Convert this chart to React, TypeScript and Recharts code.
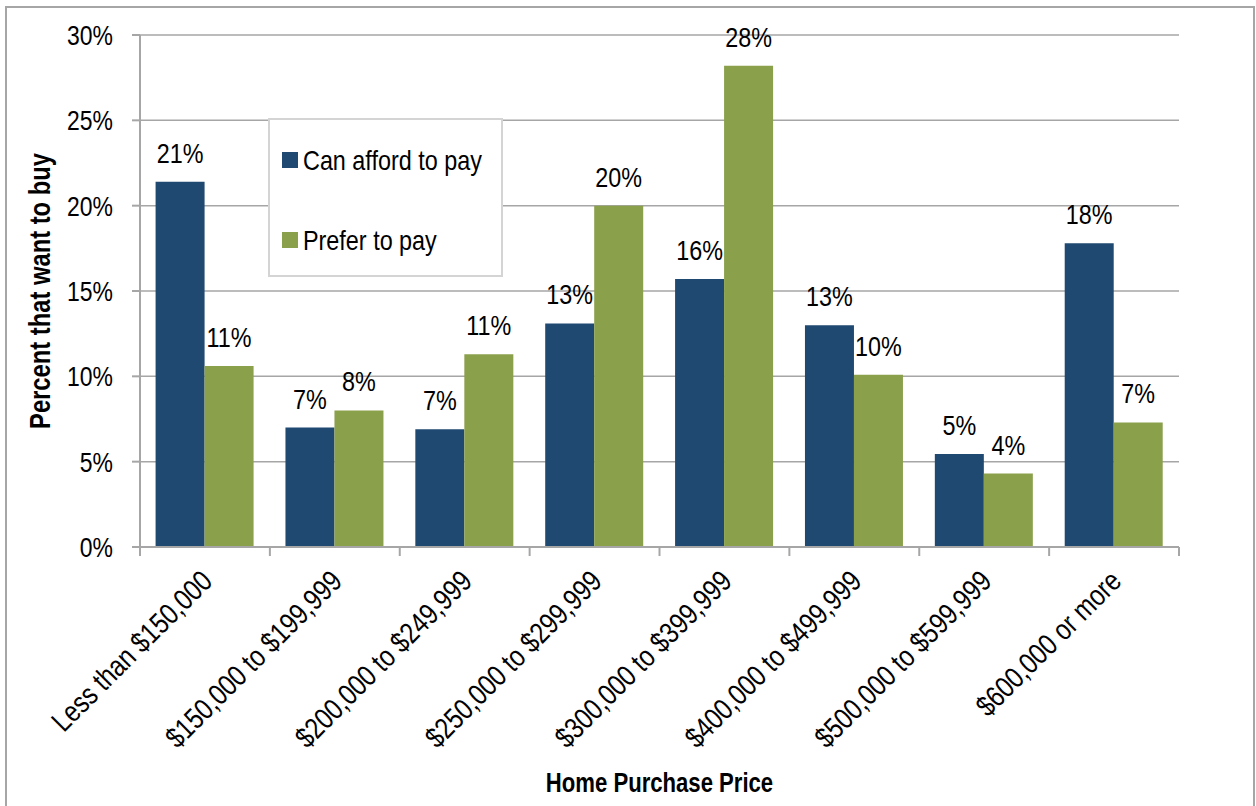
import { BarChart, Bar, XAxis, YAxis, CartesianGrid, Legend, LabelList, Label } from "recharts";

/** Price brackets along the x axis. */
const categories = [
  "Less than $150,000",
  "$150,000 to $199,999",
  "$200,000 to $249,999",
  "$250,000 to $299,999",
  "$300,000 to $399,999",
  "$400,000 to $499,999",
  "$500,000 to $599,999",
  "$600,000 or more",
];

/** Percent that can afford each bracket. */
const canAfford = [21.4, 7.0, 6.9, 13.1, 15.7, 13.0, 5.45, 17.8];

/** Percent that prefer each bracket. */
const preferPay = [10.6, 8.0, 11.3, 20.0, 28.2, 10.1, 4.3, 7.3];

/** Y axis ticks, in percent. */
const yTicks = [0, 5, 10, 15, 20, 25, 30];

const BLUE = "#1f4971";
const GREEN = "#8aa04b";
const GRID = "#a6a6a6";

const WIDTH = 1256;
const HEIGHT = 806;
const MARGIN = { top: 35, right: 77, bottom: 0, left: 0 };
const Y_AXIS_WIDTH = 140;
const X_AXIS_HEIGHT = 259;
const BAND = (WIDTH - MARGIN.right - Y_AXIS_WIDTH) / categories.length;

/** The source uses a condensed face; squeeze Liberation Sans to match. */
const SX = 0.82;

const rows = categories.map((name, i) => ({
  name,
  canAfford: canAfford[i],
  preferPay: preferPay[i],
}));

const pct = (v: number) => `${Math.round(v)}%`;

/** Rotated category label plus Excel-style boundary tick marks. */
function CategoryTick(props: any) {
  const { x, y, payload, index } = props;
  const half = BAND / 2;
  return (
    <g>
      <line x1={x - half} y1={y} x2={x - half} y2={y + 9} stroke={GRID} strokeWidth={2} />
      {index === categories.length - 1 && (
        <line x1={x + half} y1={y} x2={x + half} y2={y + 9} stroke={GRID} strokeWidth={2} />
      )}
      <text
        transform={`translate(${x + 9},${y + 36}) rotate(-45) scale(${SX},1)`}
        textAnchor="end"
        fontSize={29.5}
        fill="#000"
      >
        {payload.value}
      </text>
    </g>
  );
}

function PercentTick(props: any) {
  const { x, y, payload } = props;
  return (
    <text
      transform={`translate(${x},${y}) scale(${SX},1)`}
      textAnchor="end"
      dy="0.36em"
      fontSize={28}
      fill="#000"
    >
      {`${payload.value}%`}
    </text>
  );
}

function BarValue(props: any) {
  const { x, y, width, value } = props;
  return (
    <text
      transform={`translate(${x + width / 2},${y - 19}) scale(${SX},1)`}
      textAnchor="middle"
      fontSize={28.5}
      fill="#000"
    >
      {pct(value)}
    </text>
  );
}

/** Boxed legend floating inside the plot. */
function LegendBox(props: any) {
  const items = props.payload ?? [];
  return (
    <div
      style={{
        position: "relative",
        width: 235,
        height: 159,
        boxSizing: "border-box",
        border: "2px solid #d4d4d4",
        background: "#fff",
      }}
    >
      {items.map((item: any, i: number) => (
        <div
          key={item.value}
          style={{
            position: "absolute",
            left: 12,
            top: 27 + i * 80,
            height: 26,
            display: "flex",
            alignItems: "center",
            color: "#000",
            whiteSpace: "nowrap",
          }}
        >
          <span style={{ width: 16, height: 16, background: item.color, marginRight: 5 }} />
          <span
            style={{
              display: "inline-block",
              fontSize: 28.5,
              transform: `scaleX(${SX})`,
              transformOrigin: "left center",
            }}
          >
            {item.value}
          </span>
        </div>
      ))}
    </div>
  );
}

function YTitle(props: any) {
  const vb = props.viewBox;
  return (
    <text
      transform={`translate(${vb.x + 50},${vb.y + vb.height / 2}) rotate(-90) scale(${SX},1)`}
      textAnchor="middle"
      fontSize={29}
      fontWeight="bold"
      fill="#000"
    >
      Percent that want to buy
    </text>
  );
}

function XTitle(props: any) {
  const vb = props.viewBox;
  return (
    <text
      transform={`translate(${vb.x + vb.width / 2},${vb.y + vb.height - 14}) scale(0.79,1)`}
      textAnchor="middle"
      fontSize={28}
      fontWeight="bold"
      fill="#000"
    >
      Home Purchase Price
    </text>
  );
}

export default function App() {
  return (
    <div
      style={{
        position: "absolute",
        left: 0,
        top: 0,
        width: WIDTH,
        height: HEIGHT,
        overflow: "hidden",
        background: "#fff",
        fontFamily: "'Liberation Sans', Arial, sans-serif",
      }}
    >
      <BarChart
        width={WIDTH}
        height={HEIGHT}
        data={rows}
        margin={MARGIN}
        barCategoryGap="12%"
        barGap={0}
      >
        <CartesianGrid vertical={false} stroke={GRID} strokeWidth={1.5} />
        <XAxis
          dataKey="name"
          height={X_AXIS_HEIGHT}
          interval={0}
          tickLine={false}
          tickSize={0}
          tickMargin={0}
          axisLine={{ stroke: GRID, strokeWidth: 2 }}
          tick={<CategoryTick />}
        >
          <Label content={<XTitle />} />
        </XAxis>
        <YAxis
          width={Y_AXIS_WIDTH}
          domain={[0, 30]}
          ticks={yTicks}
          interval={0}
          tick={<PercentTick />}
          tickSize={8}
          tickMargin={19}
          tickLine={{ stroke: GRID, strokeWidth: 2 }}
          axisLine={{ stroke: GRID, strokeWidth: 2 }}
        >
          <Label content={<YTitle />} />
        </YAxis>
        <Legend
          layout="horizontal"
          verticalAlign="middle"
          align="center"
          content={<LegendBox />}
          wrapperStyle={{ position: "absolute", left: 268, top: 118, width: 235, height: 159 }}
        />
        <Bar dataKey="canAfford" name="Can afford to pay" fill={BLUE} isAnimationActive={false}>
          <LabelList dataKey="canAfford" content={<BarValue />} />
        </Bar>
        <Bar dataKey="preferPay" name="Prefer to pay" fill={GREEN} isAnimationActive={false}>
          <LabelList dataKey="preferPay" content={<BarValue />} />
        </Bar>
      </BarChart>
      <div
        style={{
          position: "absolute",
          left: 5,
          top: 6,
          width: 1250,
          height: 840,
          boxSizing: "border-box",
          border: "2px solid #a6a6a6",
          pointerEvents: "none",
        }}
      />
    </div>
  );
}
